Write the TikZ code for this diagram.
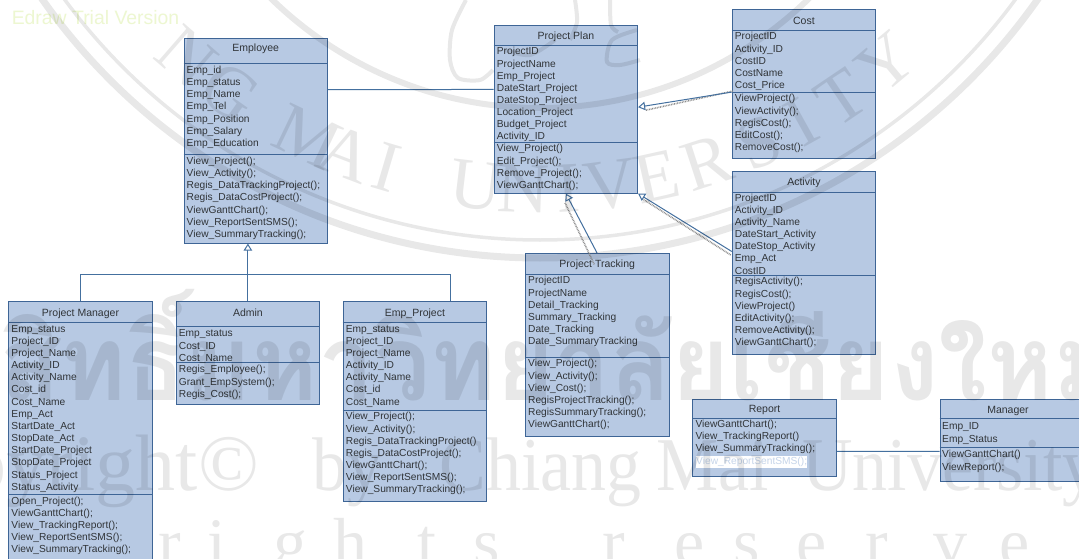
\documentclass[tikz,border=0pt]{standalone}
\usepackage{fontspec}
\setmainfont{Liberation Sans}
\newfontfamily\thaifont[Script=Thai,FakeStretch=0.95]{Loma}
\newfontfamily\markfont{Liberation Serif}
\newfontfamily\marknarrow[FakeStretch=0.92]{Liberation Serif}
\usepackage{tikz}
\usetikzlibrary{arrows.meta}
\definecolor{boxfill}{HTML}{B7C9E3}
\definecolor{boxline}{HTML}{3E6596}
\definecolor{linkline}{HTML}{44709F}
\definecolor{boxtext}{HTML}{303438}
\tikzstyle{classbox}=[rectangle, draw=boxline, fill=boxfill, line width=0.9pt, inner sep=0pt,
                      minimum width=143.5pt, anchor=north west]
\tikzstyle{classname}=[inner sep=0pt, yshift=-1pt, text=boxtext, font=\fontsize{10.5}{12}\selectfont]
\tikzstyle{members}=[inner sep=0pt, anchor=north west, align=left, text=boxtext,
                     font=\fontsize{10.2}{12.15}\selectfont]
\tikzstyle{part}=[draw=boxline, line width=0.8pt]
\tikzstyle{line}=[draw=linkline, line width=1pt]
\tikzstyle{inherit}=[draw=linkline, line width=1pt, -{Triangle[open, fill=white, length=7pt, width=8.5pt]}]
\tikzstyle{lineshadow}=[draw=black!45, line width=1.6pt, dash pattern=on 0.8pt off 0.8pt]
\tikzstyle{wmark}=[black, inner sep=0pt, text opacity=0.09]
\tikzstyle{ring}=[draw=black, draw opacity=0.09, line width=7pt]

\begin{document}
\begin{tikzpicture}[x=1pt, y=-1pt]
    \useasboundingbox (0,0) rectangle (1079,559);
    \clip (0,0) rectangle (1079,559);
    \fill [white] (0,0) rectangle (1079,559);
    \node [inner sep=0pt, text=yellow!60!green!18, font=\fontsize{19.4}{22}\selectfont] at (95.5,18) (trial) {Edraw Trial Version};
    % employee
    \node [classbox, minimum height=205pt] at (183.5,37.7) (empl) {};
    \draw [part] (empl.west |- 0,63.3) -- (empl.east |- 0,63.3);
    \draw [part] (empl.west |- 0,154) -- (empl.east |- 0,154);
    \node [classname] at (empl.north |- 0,48) (emplname) {Employee};
    \node [members] at (186.5,64.7) (emplattr) {\strut Emp\_id\\Emp\_status\\Emp\_Name\\Emp\_Tel\\Emp\_Position\\Emp\_Salary\\Emp\_Education};
    \node [members] at (186.5,155.7) (emplops) {\strut View\_Project();\\View\_Activity();\\Regis\_DataTrackingProject();\\Regis\_DataCostProject();\\ViewGanttChart();\\View\_ReportSentSMS();\\View\_SummaryTracking();};
    % project plan
    \node [classbox, minimum height=168pt] at (493.7,24.7) (plan) {};
    \draw [part] (plan.west |- 0,45.3) -- (plan.east |- 0,45.3);
    \draw [part] (plan.west |- 0,142) -- (plan.east |- 0,142);
    \node [classname] at (plan.north |- 0,35.3) (planname) {Project Plan};
    \node [members] at (496.7,46.2) (planattr) {\strut ProjectID\\ProjectName\\Emp\_Project\\DateStart\_Project\\DateStop\_Project\\Location\_Project\\Budget\_Project\\Activity\_ID};
    \node [members] at (496.7,143.2) (planops) {\strut View\_Project()\\Edit\_Project();\\Remove\_Project();\\ViewGanttChart();};
    % cost
    \node [classbox, minimum height=148.7pt] at (731.7,9.3) (cost) {};
    \draw [part] (cost.west |- 0,30.7) -- (cost.east |- 0,30.7);
    \draw [part] (cost.west |- 0,92) -- (cost.east |- 0,92);
    \node [classname] at (cost.north |- 0,20) (costname) {Cost};
    \node [members] at (734.7,31.2) (costattr) {\strut ProjectID\\Activity\_ID\\CostID\\CostName\\Cost\_Price};
    \node [members] at (734.7,93.2) (costops) {\strut ViewProject()\\ViewActivity();\\RegisCost();\\EditCost();\\RemoveCost();};
    % activity
    \node [classbox, minimum height=183pt] at (731.7,171) (act) {};
    \draw [part] (act.west |- 0,192.3) -- (act.east |- 0,192.3);
    \draw [part] (act.west |- 0,275) -- (act.east |- 0,275);
    \node [classname] at (act.north |- 0,181.3) (actname) {Activity};
    \node [members] at (734.7,192.5) (actattr) {\strut ProjectID\\Activity\_ID\\Activity\_Name\\DateStart\_Activity\\DateStop\_Activity\\Emp\_Act\\CostID};
    \node [members] at (734.7,276.2) (actops) {\strut RegisActivity();\\RegisCost();\\ViewProject()\\EditActivity();\\RemoveActivity();\\ViewGanttChart();};
    % project tracking
    \node [classbox, minimum height=183pt] at (525,253.3) (track) {};
    \draw [part] (track.west |- 0,274) -- (track.east |- 0,274);
    \draw [part] (track.west |- 0,357) -- (track.east |- 0,357);
    \node [classname] at (track.north |- 0,264) (trackname) {Project Tracking};
    \node [members] at (528,275.2) (trackattr) {\strut ProjectID\\ProjectName\\Detail\_Tracking\\Summary\_Tracking\\Date\_Tracking\\Date\_SummaryTracking};
    \node [members] at (528,358.2) (trackops) {\strut View\_Project();\\View\_Activity();\\View\_Cost();\\RegisProjectTracking();\\RegisSummaryTracking();\\ViewGanttChart();};
    % project manager
    \node [classbox, minimum height=270pt] at (8.3,301.3) (pm) {};
    \draw [part] (pm.west |- 0,322) -- (pm.east |- 0,322);
    \draw [part] (pm.west |- 0,494.7) -- (pm.east |- 0,494.7);
    \node [classname] at (pm.north |- 0,312.3) (pmname) {Project Manager};
    \node [members] at (11.3,323.5) (pmattr) {\strut Emp\_status\\Project\_ID\\Project\_Name\\Activity\_ID\\Activity\_Name\\Cost\_id\\Cost\_Name\\Emp\_Act\\StartDate\_Act\\StopDate\_Act\\StartDate\_Project\\StopDate\_Project\\Status\_Project\\Status\_Activity};
    \node [members] at (11.3,495.5) (pmops) {\strut Open\_Project();\\ViewGanttChart();\\View\_TrackingReport();\\View\_ReportSentSMS();\\View\_SummaryTracking();};
    % admin
    \node [classbox, minimum height=103.3pt] at (175.7,300.7) (admin) {};
    \draw [part] (admin.west |- 0,326.3) -- (admin.east |- 0,326.3);
    \draw [part] (admin.west |- 0,362.7) -- (admin.east |- 0,362.7);
    \node [classname] at (admin.north |- 0,311.3) (adminname) {Admin};
    \node [members] at (178.7,328.2) (adminattr) {\strut Emp\_status\\Cost\_ID\\Cost\_Name};
    \node [members] at (178.7,364.2) (adminops) {\strut Regis\_Employee();\\Grant\_EmpSystem();\\Regis\_Cost();};
    % emp project
    \node [classbox, minimum height=200pt] at (342.7,301.3) (emp) {};
    \draw [part] (emp.west |- 0,322) -- (emp.east |- 0,322);
    \draw [part] (emp.west |- 0,410.3) -- (emp.east |- 0,410.3);
    \node [classname] at (emp.north |- 0,312.3) (empname) {Emp\_Project};
    \node [members] at (345.7,323.5) (empattr) {\strut Emp\_status\\Project\_ID\\Project\_Name\\Activity\_ID\\Activity\_Name\\Cost\_id\\Cost\_Name};
    \node [members] at (345.7,411.2) (empops) {\strut View\_Project();\\View\_Activity();\\Regis\_DataTrackingProject()\\Regis\_DataCostProject();\\ViewGanttChart();\\View\_ReportSentSMS();\\View\_SummaryTracking();};
    % report
    \node [classbox, minimum height=76.4pt] at (692.3,399.3) (report) {};
    \draw [part] (report.west |- 0,418.3) -- (report.east |- 0,418.3);
    \node [classname] at (report.north |- 0,409.3) (reportname) {Report};
    \node [members] at (695.3,418.5) (reportops) {\strut ViewGanttChart();\\View\_TrackingReport()\\View\_SummaryTracking();};
    \node [members, fill=white, text=boxfill!80!white] at (696,455.7) (reportsms) {\strut View\_ReportSentSMS();};
    % manager
    \node [classbox, minimum height=81.7pt] at (939.7,399.3) (boss) {};
    \draw [part] (boss.west |- 0,418.3) -- (boss.east |- 0,418.3);
    \draw [part] (boss.west |- 0,447.3) -- (boss.east |- 0,447.3);
    \node [classname] at (1008,410) (bossname) {Manager};
    \node [members] at (942,421.2) (bossattr) {\strut Emp\_ID\\Emp\_Status};
    \node [members] at (942,449.2) (bossops) {\strut ViewGanttChart()\\ViewReport();};
    % connectors
    \coordinate (bus) at (247,274);
    \path [line] ([yshift=51pt]empl.east) -- ([yshift=19.7pt]plan.west);
    \path [line] ([yshift=-13.5pt]report.east) -- ([yshift=-10.8pt]boss.west);
    \path [inherit] (admin.north) -- (admin.north |- empl.south);
    \path [line] (pm.north) |- (bus);
    \path [line] ([xshift=35.5pt]emp.north) |- (bus);
    \path [lineshadow] ([xshift=1pt,yshift=-7pt]cost.west) -- ([xshift=8pt,yshift=-1pt]plan.east);
    \path [lineshadow] ([xshift=-3pt,yshift=-11pt]track.north) -- ([xshift=-1pt,yshift=-9pt]plan.south);
    \path [lineshadow] ([xshift=-1pt,yshift=8pt]act.west) -- ([xshift=4pt,yshift=-5pt]plan.south east);
    \path [inherit] ([yshift=-8pt]cost.west) -- ([yshift=2pt]plan.east);
    \path [inherit] (track.north) -- (plan.south);
    \path [inherit] ([yshift=11.5pt]act.west) -- (plan.south east);
    % watermark
    \path [ring] (540,-350) circle (608);
    \path [ring, line width=3.5pt] (540,-350) circle (590);
    \path [ring, line width=6pt] (540,-277) circle (385);
    \path [ring, line width=4pt] plot [smooth] coordinates {(466,0) (452,30) (450,60) (458,78) (480,80) (493,70)};
    \path [ring, line width=4pt] plot [smooth] coordinates {(505,50) (530,55) (555,40)};
    \path [ring, line width=4pt] plot [smooth] coordinates {(575,0) (577,22) (570,40)};
    \path [ring, line width=4pt] plot [smooth] coordinates {(610,0) (611,25) (618,32)};
    \path [ring, line width=4pt] plot [smooth] coordinates {(637,30) (612,40) (607,62) (620,65) (640,60)};
    \foreach \ch/\ang in {N/-41,G/-35,M/-25.5,A/-21,I/-16.5,U/-6.8,N/-1.8,I/3,V/7.5,E/12.5,R/18,S/24,I/29,T/34,Y/40}
        \node [wmark, rotate=\ang, font=\markfont\fontsize{72}{72}\selectfont, anchor=base] at ({540+563*sin(\ang)},{-350+563*cos(\ang)}) {\ch};
    \node [wmark, anchor=base west, font=\thaifont\bfseries\fontsize{105}{105}\selectfont] at (-130,400) (markthai) {ลิขสิทธิ์มหาวิทยาลัยเชียงใหม่};
    \node [wmark, anchor=base east, font=\markfont\fontsize{80}{80}\selectfont] at (259,490) (markcopy) {Copyright©};
    \node [wmark, anchor=base west, font=\marknarrow\fontsize{76}{76}\selectfont] at (312,490) (markuni) {by\hspace{40pt} Chiang\hspace{-3pt} Mai\hspace{16pt} University};
    \foreach \ch/\xx in {r/170,i/217,g/290,h/350,t/427,s/487,r/614,e/690,s/747,e/812,r/877,v/950,e/1015}
        \node [wmark, anchor=base, font=\markfont\fontsize{68}{68}\selectfont] at (\xx,565) {\ch};
\end{tikzpicture}
\end{document}
